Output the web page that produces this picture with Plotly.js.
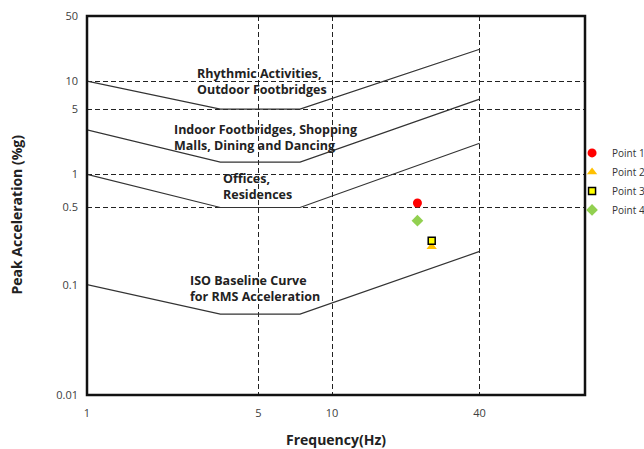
<!DOCTYPE html>
<html><head><meta charset="utf-8">
<script src="https://cdn.plot.ly/plotly-3.0.1.min.js"></script>
<style>html,body{margin:0;padding:0;background:#fff;}#chart{width:644px;height:449px;}</style>
</head><body><div id="chart"></div>
<script>
// ---- data ----
const curveFreq = [1, 3.5, 7.4, 40];          // Hz, corner points of the criteria curves
const rhythmic  = [10, 5, 5, 22];             // %g
const indoor    = [3, 1.35, 1.35, 6.4];
const offices   = [1, 0.5, 0.5, 1.91];
const isoBase   = [0.1, 0.054, 0.054, 0.2];

const pointNames   = ['Point 1', 'Point 2', 'Point 3', 'Point 4'];
const pointFreq    = [22.3, 25.5, 25.5, 22.3];
const pointAcc     = [0.55, 0.22, 0.25, 0.38];
const pointColors  = ['#ff0000', '#ffc000', '#ffff00', '#92d050'];
const pointSymbols = ['circle', 'triangle-up', 'square', 'diamond'];

const xTicks      = [1, 5, 10, 40];
const yLowerTicks = [0.01, 0.1, 0.5, 1];
const yUpperTicks = [5, 10, 50];
const yLowerGrid  = [0.5, 1];

const curveLabels = {
  rhythmic: 'Rhythmic Activities,<br>Outdoor Footbridges',
  indoor: 'Indoor Footbridges, Shopping<br>Malls, Dining and Dancing',
  offices: 'Offices,<br>Residences',
  iso: 'ISO Baseline Curve<br>for RMS Acceleration'
};
const xTitle = 'Frequency(Hz)';
const yTitle = 'Peak Acceleration (%g)';

// ---- styling ----
const FONT = 'Open Sans, DejaVu Sans, sans-serif';
const lineStyle = {color: '#333333', width: 1.2};
const gridDash = '5px,3px';

function curve(y, axis) {
  return {x: curveFreq, y: y, yaxis: axis, mode: 'lines', line: lineStyle,
          showlegend: false, hoverinfo: 'skip'};
}

const traces = [
  curve(rhythmic, 'y2'),
  curve(indoor, 'y2'),
  curve(offices, 'y'),
  curve(isoBase, 'y')
];
const markerSizes = [9, 9, 7, 9];
pointNames.forEach((n, i) => {
  traces.push({
    x: [pointFreq[i]], y: [pointAcc[i]], yaxis: 'y', name: n, mode: 'markers',
    marker: {color: pointColors[i], symbol: pointSymbols[i], size: markerSizes[i],
             line: {color: i === 2 ? '#000000' : pointColors[i], width: i === 2 ? 1.5 : 0}},
    hoverinfo: 'skip'
  });
});

const tickFont = {family: FONT, size: 11, color: '#404040'};
const annFont = {family: FONT, size: 12.5, color: '#222222'};

const layout = {
  width: 644, height: 449,
  margin: {l: 87, r: 59, t: 16, b: 54, autoexpand: false},
  paper_bgcolor: '#ffffff', plot_bgcolor: 'rgba(0,0,0,0)',
  showlegend: true,
  legend: {x: 0.974, xanchor: 'left', y: 0.677, yanchor: 'top', font: {family: FONT, size: 10, color: '#333333'},
           bgcolor: 'rgba(0,0,0,0)', borderwidth: 0, itemwidth: 30},
  xaxis: {type: 'log', range: [0, 2.032], anchor: 'y', tickmode: 'array', tickvals: xTicks,
          ticktext: xTicks.map(String), ticks: '', tickfont: tickFont, ticklabelstandoff: 10,
          showgrid: true, gridcolor: '#222222', gridwidth: 1, griddash: gridDash,
          showline: false, zeroline: false,
          title: {text: '<b>' + xTitle + '</b>', font: {family: FONT, size: 14, color: '#222222'}, standoff: 16}},
  yaxis: {type: 'log', domain: [0, 0.68338], range: [-2, 0.34707], anchor: 'x', tickmode: 'array',
          tickvals: yLowerTicks, ticktext: yLowerTicks.map(String), ticks: '', tickfont: tickFont,
          ticklabelstandoff: 8, showgrid: false, zeroline: false, showline: false,
          minor: {tickmode: 'array', tickvals: yLowerGrid, showgrid: true, gridcolor: '#222222',
                  gridwidth: 1, griddash: gridDash, ticks: ''}},
  yaxis2: {type: 'log', domain: [0.5823, 1], range: [0, Math.log10(50)], anchor: 'x', tickmode: 'array',
           tickvals: yUpperTicks, ticktext: yUpperTicks.map(String), ticks: '', tickfont: tickFont,
           ticklabelstandoff: 8, showgrid: true, gridcolor: '#222222', gridwidth: 1, griddash: gridDash,
           zeroline: false, showline: false},
  shapes: [{type: 'rect', xref: 'paper', yref: 'paper', x0: 0, x1: 1, y0: 0, y1: 1,
            line: {color: '#111111', width: 2.5}, layer: 'above'}],
  annotations: [
    {text: '<b>' + curveLabels.rhythmic + '</b>', x: Math.log10(2.75), y: Math.log10(9.9), xref: 'x', yref: 'y2',
     xanchor: 'left', yanchor: 'middle', align: 'left', showarrow: false, font: annFont},
    {text: '<b>' + curveLabels.indoor + '</b>', x: Math.log10(2.22), y: Math.log10(2.5), xref: 'x', yref: 'y2',
     xanchor: 'left', yanchor: 'middle', align: 'left', showarrow: false, font: annFont},
    {text: '<b>' + curveLabels.offices + '</b>', x: Math.log10(3.52), y: Math.log10(0.77), xref: 'x', yref: 'y',
     xanchor: 'left', yanchor: 'middle', align: 'left', showarrow: false, font: annFont},
    {text: '<b>' + curveLabels.iso + '</b>', x: Math.log10(2.58), y: Math.log10(0.093), xref: 'x', yref: 'y',
     xanchor: 'left', yanchor: 'middle', align: 'left', showarrow: false, font: annFont},
    {text: '<b>' + yTitle + '</b>', xref: 'paper', yref: 'paper', x: -0.1396, y: 0.4776,
     xanchor: 'center', yanchor: 'middle', textangle: -90, showarrow: false,
     font: {family: FONT, size: 14, color: '#222222'}}
  ]
};

Plotly.newPlot('chart', traces, layout, {staticPlot: true, displayModeBar: false});
</script>
</body></html>
